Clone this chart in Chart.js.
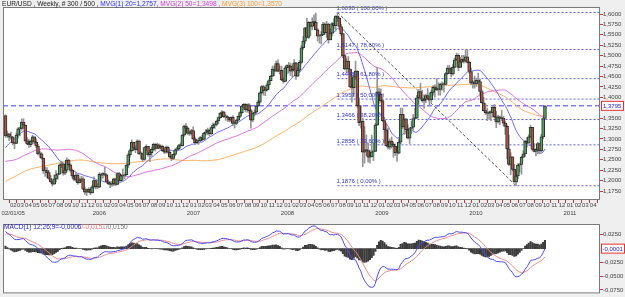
<!DOCTYPE html>
<html><head><meta charset="utf-8">
<script src="https://cdn.jsdelivr.net/npm/chart.js@4.4.0/dist/chart.umd.min.js"></script>
<style>
html,body{margin:0;padding:0;background:#efefef;width:625px;height:297px;overflow:hidden;font-family:"Liberation Sans",Arial,sans-serif;}
canvas{position:absolute;left:0;}
#main{top:0;}
#macd{top:220px;}
.t{position:absolute;font-size:6.6px;white-space:nowrap;line-height:7px;}
</style></head><body>
<canvas id="main" width="625" height="220"></canvas>
<canvas id="macd" width="625" height="77"></canvas>
<div class="t" style="left:2px;top:0px"><span style="color:#222">EUR/USD , Weekly, # 300 / 500 , </span><span style="color:#3030ff">MVG(1) 20=1,2757, </span><span style="color:#d040d0">MVG(2) 50=1,3498 , </span><span style="color:#ff9a30">MVG(3) 100=1,3570</span></div>
<div class="t" style="left:4px;top:223px"><span style="color:#2020e0">MACD(1) 12;26;9=-0,0006</span><span style="color:#f07070">/-0,0151</span><span style="color:#777">/0,0150</span></div>
<script>
// ---- weekly closes before the visible window (indicator warm-up, 2003-2004) ----
const priorClose = [
1.0410,1.0530,1.0620,1.0770,1.0770,1.0800,1.0780,1.0740,1.0790,1.1000,1.0760,1.0600,1.0760,1.0830,1.0810,1.0970,1.1060,1.1290,1.1500,1.1550,1.1790,1.1800,1.1800,1.1780,1.1660,1.1440,1.1450,1.1300,1.1230,1.1460,1.1270,1.1380,1.1320,1.1020,1.0990,1.1080,1.1270,1.1520,1.1450,1.1550,1.1720,1.1620,1.1790,1.1580,1.1490,1.1650,1.1770,1.1990,1.2170,1.2290,1.2390,1.2410,
1.2590,1.2820,1.2450,1.2620,1.2440,1.2680,1.2810,1.2520,1.2490,1.2270,1.2260,1.2310,1.2180,1.2120,1.2070,1.2020,1.1830,1.1980,1.2000,1.1890,1.2000,1.2200,1.2280,1.2050,1.2120,1.2150,1.2340,1.2410,1.2410,1.2230,1.2020,1.2270,1.2320,1.2290,1.2040,1.2090,1.2230,1.2170,1.2270,1.2350,1.2390,1.2470,1.2630,1.2750,1.2960,1.2970,1.3040,1.3260,1.3400,1.3230,1.3330,1.3550,1.3560];

// ---- visible weekly bars (week of 02/01/05 ... week ending 01/10/10) ----
const close2005=[1.3070,1.3120,1.3045,1.3045,1.2905,1.2895,1.3090,1.3240,1.3255,1.3405,1.3335,1.2955,1.2880,1.2865,1.2940,1.3050,1.2920,1.2830,1.2640,1.2640,1.2540,1.2230,1.2240,1.2190,1.2050,1.1970,1.1915,1.2040,1.2140,1.2155,1.2370,1.2400,1.2180,1.2250,1.2490,1.2380,1.2245,1.2110,1.2030,1.2130,1.1950,1.2010,1.2045,1.1795,1.1720,1.1725,1.1790,1.1705,1.1850,1.2000,1.1850,1.1840];
const high2005=[1.3580,1.3190,1.3130,1.3165,1.3055,1.2925,1.3140,1.3270,1.3285,1.3480,1.3485,1.3330,1.3035,1.2990,1.2975,1.3090,1.3055,1.3000,1.2870,1.2705,1.2670,1.2535,1.2330,1.2310,1.2240,1.2130,1.2010,1.2140,1.2240,1.2170,1.2410,1.2470,1.2430,1.2320,1.2545,1.2510,1.2405,1.2280,1.2130,1.2190,1.2150,1.2060,1.2100,1.2090,1.1845,1.1795,1.1830,1.1820,1.1880,1.2090,1.2000,1.1925];
const low2005=[1.3040,1.3035,1.2960,1.2990,1.2860,1.2765,1.2885,1.3020,1.3070,1.3210,1.3240,1.2920,1.2860,1.2795,1.2810,1.2885,1.2880,1.2790,1.2615,1.2560,1.2515,1.2170,1.2100,1.2070,1.2030,1.1960,1.1870,1.1915,1.1970,1.2030,1.2155,1.2310,1.2130,1.2140,1.2200,1.2350,1.2200,1.2060,1.1990,1.1980,1.1910,1.1940,1.1970,1.1780,1.1670,1.1640,1.1715,1.1665,1.1700,1.1820,1.1800,1.1800];
const close2006=[1.2150,1.2130,1.2170,1.2140,1.1970,1.1925,1.1910,1.1925,1.2040,1.1910,1.2170,1.2000,1.2120,1.2110,1.2140,1.2370,1.2620,1.2720,1.2920,1.2780,1.2740,1.2950,1.2640,1.2650,1.2510,1.2790,1.2820,1.2620,1.2670,1.2750,1.2870,1.2770,1.2860,1.2780,1.2820,1.2720,1.2680,1.2800,1.2680,1.2570,1.2530,1.2630,1.2740,1.2760,1.2840,1.2840,1.3090,1.3310,1.3260,1.3130,1.3130,1.3200];
const high2006=[1.2190,1.2180,1.2190,1.2320,1.2160,1.2020,1.1985,1.1980,1.2060,1.2050,1.2190,1.2200,1.2150,1.2280,1.2160,1.2380,1.2650,1.2760,1.2980,1.2920,1.2830,1.2980,1.2970,1.2690,1.2660,1.2800,1.2860,1.2820,1.2720,1.2800,1.2900,1.2890,1.2900,1.2880,1.2860,1.2850,1.2760,1.2830,1.2830,1.2720,1.2620,1.2640,1.2760,1.2800,1.2870,1.2900,1.3110,1.3330,1.3370,1.3280,1.3190,1.3230];
const low2006=[1.1830,1.2030,1.2050,1.2110,1.1960,1.1900,1.1830,1.1860,1.1880,1.1880,1.1900,1.1980,1.1990,1.2030,1.2040,1.2130,1.2310,1.2560,1.2700,1.2720,1.2670,1.2730,1.2630,1.2520,1.2460,1.2490,1.2720,1.2580,1.2460,1.2580,1.2720,1.2710,1.2760,1.2760,1.2760,1.2700,1.2650,1.2660,1.2660,1.2540,1.2480,1.2500,1.2600,1.2700,1.2720,1.2790,1.2830,1.3060,1.3200,1.3100,1.3080,1.3100];
const close2007=[1.3000,1.2910,1.2960,1.2950,1.3030,1.2990,1.3140,1.3170,1.3220,1.3120,1.3270,1.3330,1.3350,1.3430,1.3510,1.3620,1.3650,1.3530,1.3530,1.3510,1.3450,1.3520,1.3370,1.3370,1.3450,1.3540,1.3630,1.3790,1.3830,1.3700,1.3820,1.3680,1.3450,1.3610,1.3640,1.3790,1.3880,1.4110,1.4260,1.4160,1.4180,1.4300,1.4400,1.4510,1.4680,1.4630,1.4810,1.4630,1.4650,1.4420,1.4380,1.4710];
const high2007=[1.3290,1.3050,1.2990,1.3020,1.3060,1.3090,1.3160,1.3230,1.3260,1.3220,1.3290,1.3380,1.3380,1.3450,1.3530,1.3630,1.3680,1.3660,1.3580,1.3560,1.3490,1.3530,1.3560,1.3420,1.3470,1.3550,1.3650,1.3810,1.3850,1.3850,1.3840,1.3850,1.3710,1.3620,1.3700,1.3800,1.3930,1.4130,1.4280,1.4290,1.4240,1.4350,1.4420,1.4530,1.4750,1.4750,1.4870,1.4900,1.4750,1.4750,1.4470,1.4740];
const low2007=[1.2990,1.2860,1.2880,1.2870,1.2930,1.2960,1.2990,1.3090,1.3100,1.3070,1.3110,1.3240,1.3250,1.3310,1.3370,1.3500,1.3570,1.3510,1.3450,1.3420,1.3410,1.3420,1.3320,1.3260,1.3340,1.3440,1.3510,1.3620,1.3730,1.3650,1.3640,1.3620,1.3260,1.3410,1.3550,1.3610,1.3780,1.3860,1.4080,1.4050,1.4040,1.4150,1.4190,1.4390,1.4500,1.4520,1.4640,1.4610,1.4560,1.4400,1.4340,1.4370];
const close2008=[1.4760,1.4750,1.4630,1.4670,1.4830,1.4510,1.4650,1.4840,1.5190,1.5350,1.5670,1.5440,1.5800,1.5700,1.5810,1.5800,1.5620,1.5470,1.5480,1.5500,1.5760,1.5550,1.5760,1.5380,1.5540,1.5770,1.5720,1.5950,1.5900,1.5700,1.5530,1.5000,1.4680,1.4870,1.4680,1.4250,1.4230,1.4500,1.4630,1.3800,1.3390,1.3420,1.2680,1.2740,1.2720,1.2560,1.2570,1.2690,1.2700,1.3330,1.4130,1.4070];
const high2008=[1.4780,1.4840,1.4820,1.4780,1.4910,1.4840,1.4720,1.4880,1.5240,1.5460,1.5680,1.5900,1.5820,1.5810,1.5910,1.5980,1.6020,1.5650,1.5500,1.5580,1.5800,1.5790,1.5820,1.5780,1.5640,1.5800,1.5890,1.5960,1.6038,1.5920,1.5760,1.5530,1.5010,1.4930,1.4980,1.4680,1.4300,1.4550,1.4870,1.4640,1.3980,1.3800,1.3500,1.3300,1.3100,1.2900,1.2730,1.3090,1.2900,1.3370,1.4720,1.4220];
const low2008=[1.4560,1.4580,1.4520,1.4480,1.4730,1.4430,1.4500,1.4610,1.4810,1.5150,1.5290,1.5430,1.5410,1.5480,1.5620,1.5780,1.5620,1.5350,1.5300,1.5280,1.5500,1.5520,1.5440,1.5300,1.5380,1.5470,1.5640,1.5590,1.5820,1.5620,1.5480,1.4950,1.4660,1.4600,1.4600,1.4240,1.3880,1.4020,1.4420,1.3760,1.3320,1.3260,1.2330,1.2420,1.2600,1.2440,1.2420,1.2600,1.2480,1.2700,1.3340,1.3850];
const close2009=[1.3920,1.3440,1.3220,1.2840,1.2800,1.2940,1.2870,1.2820,1.2670,1.2660,1.2920,1.3590,1.3290,1.3480,1.3220,1.3020,1.3250,1.3280,1.3490,1.3500,1.3990,1.4140,1.3970,1.3920,1.3950,1.4040,1.3970,1.3940,1.4120,1.4240,1.4230,1.4180,1.4190,1.4320,1.4300,1.4310,1.4570,1.4700,1.4680,1.4560,1.4720,1.4900,1.5010,1.4720,1.4850,1.4910,1.4870,1.4970,1.4840,1.4620,1.4340,1.4370];
const high2009=[1.4200,1.3950,1.3520,1.3350,1.3260,1.3000,1.3050,1.2920,1.2880,1.2750,1.3000,1.3740,1.3740,1.3580,1.3480,1.3340,1.3270,1.3420,1.3590,1.3740,1.4050,1.4190,1.4340,1.4170,1.4060,1.4080,1.4210,1.4100,1.4170,1.4280,1.4300,1.4450,1.4350,1.4340,1.4370,1.4350,1.4600,1.4760,1.4770,1.4720,1.4800,1.4940,1.5060,1.5040,1.4960,1.5010,1.5010,1.5140,1.5140,1.4870,1.4700,1.4400];
const low2009=[1.3880,1.3420,1.2900,1.2830,1.2760,1.2750,1.2780,1.2560,1.2600,1.2460,1.2640,1.2880,1.3250,1.3110,1.3120,1.3000,1.2890,1.3130,1.3210,1.3480,1.3510,1.3830,1.3950,1.3880,1.3730,1.3870,1.3950,1.3820,1.3880,1.4050,1.4000,1.4160,1.4050,1.4050,1.4170,1.4130,1.4310,1.4550,1.4580,1.4490,1.4530,1.4710,1.4880,1.4640,1.4720,1.4830,1.4820,1.4840,1.4820,1.4580,1.4300,1.4220];
const close2010=[1.4320,1.4410,1.4380,1.4140,1.3870,1.3680,1.3630,1.3610,1.3630,1.3630,1.3760,1.3530,1.3410,1.3530,1.3490,1.3500,1.3380,1.3300,1.2760,1.2390,1.2570,1.2270,1.1970,1.2110,1.2370,1.2390,1.2560,1.2640,1.2940,1.2900,1.3050,1.3280,1.2750,1.2700,1.2750,1.2890,1.2710,1.3050,1.3490,1.3795];
const high2010=[1.4510,1.4460,1.4580,1.4440,1.4180,1.4000,1.3850,1.3740,1.3670,1.3680,1.3790,1.3830,1.3660,1.3570,1.3550,1.3690,1.3540,1.3420,1.3340,1.3090,1.2670,1.2560,1.2390,1.2190,1.2410,1.2420,1.2590,1.2720,1.2970,1.3030,1.3100,1.3330,1.3280,1.2900,1.2770,1.2920,1.2880,1.3110,1.3510,1.3800];
const low2010=[1.4220,1.4260,1.4360,1.4030,1.3860,1.3670,1.3580,1.3440,1.3470,1.3440,1.3520,1.3510,1.3270,1.3380,1.3340,1.3440,1.3310,1.3110,1.2520,1.2360,1.2140,1.2230,1.1960,1.1876,1.2040,1.2210,1.2150,1.2550,1.2580,1.2800,1.2900,1.3020,1.2730,1.2690,1.2590,1.2640,1.2640,1.2680,1.3000,1.3470];

// ---- Fibonacci retracement (peak bar -> low bar) ----
const fibLevels   = [1.6038, 1.5147, 1.4448, 1.3957, 1.3466, 1.2858, 1.1876];
const fibPercents = ['100,00%','78,60%','61,80%','50,00%','38,20%','23,60%','0,00%'];
const fibFromBar = 184, fibToBar = 283;

// ---- axis ticks ----
const priceTicks = [1.6000,1.5750,1.5500,1.5250,1.5000,1.4750,1.4500,1.4250,1.4000,1.3500,1.3250,1.3000,1.2750,1.2500,1.2250,1.2000,1.1750];
const macdTicks  = [0.0250,-0.0250,-0.0500,-0.0750];
const macdLastLabel = -0.0001;
const axisStartDate = '2005-01-02', axisFirstLabel = '02/01/05', lastMonth = '2011-04';

// ================= build =================
const closes = [].concat(close2005,close2006,close2007,close2008,close2009,close2010);
const highs  = [].concat(high2005,high2006,high2007,high2008,high2009,high2010);
const lows   = [].concat(low2005,low2006,low2007,low2008,low2009,low2010);
const opens  = closes.map((c,i)=> i===0 ? priorClose[priorClose.length-1] : closes[i-1]);
const N = closes.length;
const allClose = priorClose.concat(closes), OFF = priorClose.length;

function sma(n){const out=[];for(let i=0;i<N;i++){let s=0;for(let k=0;k<n;k++)s+=allClose[OFF+i-k];out.push({x:i,y:s/n});}return out;}
function ema(arr,n){const k=2/(n+1);const out=[arr[0]];for(let i=1;i<arr.length;i++)out.push(arr[i]*k+out[i-1]*(1-k));return out;}
const e12=ema(allClose,12), e26=ema(allClose,26);
const macdAll=e12.map((v,i)=>v-e26[i]); const sigAll=ema(macdAll,9);
const macdLine=[],sigLine=[],histBars=[];
for(let i=0;i<N;i++){const m=macdAll[OFF+i],s=sigAll[OFF+i];macdLine.push({x:i,y:m});sigLine.push({x:i,y:s});histBars.push({x:i,y:m-s});}

// month ticks
const t0 = Date.parse(axisStartDate+'T00:00:00Z'); const WEEK=7*864e5;
const monthTicks=[]; {let y=2005,m=2; const [ly,lm]=lastMonth.split('-').map(Number);
 while(y<ly||(y===ly&&m<=lm)){const v=(Date.UTC(y,m-1,1)-t0)/WEEK; const mm=(m<10?'0':'')+m;
  let lab = m===1 ? [mm,String(y)] : mm; if(monthTicks.length===0) lab=[mm,axisFirstLabel];
  monthTicks.push({value:v,label:lab}); m++; if(m>12){m=1;y++;}}}

const fmt4 = v => (v<0?'-':'')+Math.abs(v).toFixed(4).replace('.',',');
const X_MIN=-1.386, X_MAX=329.5;
Chart.defaults.font.family='"Liberation Sans", Arial, sans-serif';
Chart.defaults.font.size=6;
Chart.defaults.color='#444';

const bull='#4fa060', bear='#b35443', edge='#303030';
const frame = {
  id:'frame',
  beforeDraw(c){const a=c.chartArea,x=c.ctx;x.save();x.fillStyle='#ffffff';x.fillRect(a.left,a.top,a.right-a.left,a.bottom-a.top);x.restore();},
  afterDraw(c){const a=c.chartArea,x=c.ctx;x.save();x.strokeStyle='#7a7a7a';x.lineWidth=1;
    x.strokeRect(a.left+0.5,a.top+0.5,a.right-a.left-1,a.bottom-a.top-1);x.restore();}
};
const fibText = {
  id:'fibText',
  afterDatasetsDraw(c){const xs=c.scales.x,ys=c.scales.y,x=c.ctx;x.save();x.font='6px "Liberation Sans", Arial';x.fillStyle='#3434c8';x.textBaseline='bottom';
    fibLevels.forEach((lv,i)=>{x.fillText(fmt4(lv)+' ( '+fibPercents[i]+' )',xs.getPixelForValue(fibFromBar)-1,ys.getPixelForValue(lv)-1);});
    const last=closes[N-1], py=ys.getPixelForValue(last), a=c.chartArea;
    x.fillStyle='#ffffff';x.fillRect(a.right+1,py-5,23,10);x.strokeStyle='#e03030';x.strokeRect(a.right+1.5,py-4.5,22,9);
    x.fillStyle='#2020e0';x.textBaseline='middle';x.fillText(fmt4(last),a.right+3,py+0.5);
    x.restore();}
};

const wickData = closes.map((c,i)=>({x:i,y:[Math.min(lows[i],opens[i],c),Math.max(highs[i],opens[i],c)]}));
const bodyData = closes.map((c,i)=>({x:i,y:[opens[i],c]}));
const bodyCol  = closes.map((c,i)=> c>=opens[i]?bull:bear);

const lineDs=(data,color,order,dash,w)=>({type:'line',data,borderColor:color,borderWidth:w||1,pointRadius:0,borderDash:dash||[],order,tension:0});
const fibDs = fibLevels.map(lv=>lineDs([{x:fibFromBar,y:lv},{x:X_MAX,y:lv}],'#5a5aff',20,[2,2]));

new Chart(document.getElementById('main'),{
  type:'bar',
  data:{datasets:[
    ...fibDs,
    lineDs([{x:X_MIN,y:closes[N-1]},{x:X_MAX,y:closes[N-1]}],'#3d3dff',19,[5,3]),
    lineDs([{x:fibFromBar,y:fibLevels[0]},{x:fibToBar,y:fibLevels[fibLevels.length-1]}],'#555555',18,[3,2]),
    lineDs(sma(100),'#ffb060',12),
    lineDs(sma(50),'#e070e0',11),
    lineDs(sma(20),'#6a6aff',10),
    {type:'bar',data:wickData,backgroundColor:'#959595',barThickness:1,grouped:false,order:6},
    {type:'bar',data:bodyData,backgroundColor:bodyCol,borderColor:edge,borderWidth:1,borderSkipped:false,barThickness:3,minBarLength:1,grouped:false,order:5}
  ]},
  options:{responsive:false,animation:false,devicePixelRatio:1,
    layout:{padding:{left:3,top:7,right:0,bottom:0}},
    plugins:{legend:{display:false},tooltip:{enabled:false}},
    scales:{
      x:{type:'linear',min:X_MIN,max:X_MAX,offset:false,
        afterFit(s){s.height=20;},
        afterBuildTicks(s){s.ticks=monthTicks.map(t=>({value:t.value}));},
        ticks:{autoSkip:false,maxRotation:0,minRotation:0,padding:-1,color:'#444',font:{size:6,lineHeight:1.25},callback:(v,i)=>monthTicks[i]?monthTicks[i].label:''},
        grid:{drawOnChartArea:false,tickLength:3,tickColor:'#e03030'},border:{display:false}},
      y:{type:'linear',position:'right',min:1.15339,max:1.61681,
        afterFit(s){s.width=25;},
        afterBuildTicks(s){s.ticks=priceTicks.map(v=>({value:v}));},
        ticks:{autoSkip:false,padding:0,color:'#444',font:{size:6},callback:v=>fmt4(v)},
        grid:{drawOnChartArea:false,tickLength:3,tickColor:'#e03030'},border:{display:false}}
    }},
  plugins:[frame,fibText]
});

const macdBox = {
  id:'macdBox',
  afterDraw(c){const ys=c.scales.y,a=c.chartArea,x=c.ctx;x.save();const py=ys.getPixelForValue(macdLastLabel);
    x.fillStyle='#ffffff';x.fillRect(a.right+1,py-5,24,10);x.strokeStyle='#e03030';x.strokeRect(a.right+1.5,py-4.5,23,9);
    x.font='6px "Liberation Sans", Arial';x.fillStyle='#2020e0';x.textBaseline='middle';x.fillText(fmt4(macdLastLabel),a.right+2.5,py+0.5);x.restore();}
};
new Chart(document.getElementById('macd'),{
  type:'bar',
  data:{datasets:[
    {type:'bar',data:histBars,backgroundColor:'#3c3c3c',barThickness:1.4,grouped:false,order:5},
    lineDs(sigLine,'#f08a8a',2),
    lineDs(macdLine,'#4a4aff',1)
  ]},
  options:{responsive:false,animation:false,devicePixelRatio:1,
    layout:{padding:{left:3,top:4,right:0,bottom:2}},
    plugins:{legend:{display:false},tooltip:{enabled:false}},
    scales:{
      x:{type:'linear',min:X_MIN,max:X_MAX,offset:false,display:false},
      y:{type:'linear',position:'right',min:-0.0813,max:0.0446,
        afterFit(s){s.width=25;},
        afterBuildTicks(s){s.ticks=macdTicks.map(v=>({value:v}));},
        ticks:{autoSkip:false,padding:0,color:'#444',font:{size:6},callback:v=>fmt4(v)},
        grid:{drawOnChartArea:false,tickLength:3,tickColor:'#e03030'},border:{display:false}}
    }},
  plugins:[frame,macdBox]
});
</script>
</body></html>
